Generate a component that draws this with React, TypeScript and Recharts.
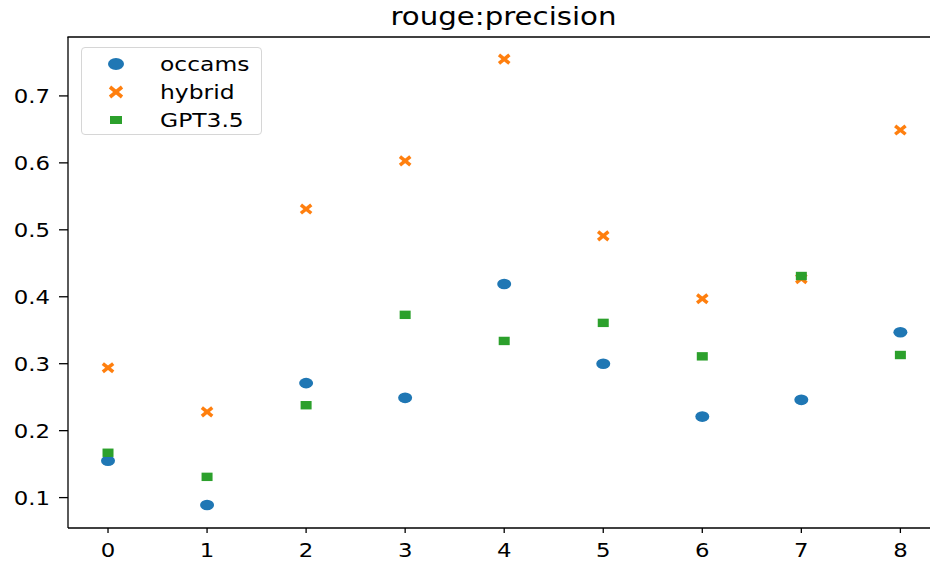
import React from "react";
import { ScatterChart, Scatter, XAxis, YAxis } from "recharts";

const categories = [0, 1, 2, 3, 4, 5, 6, 7, 8];
const occams = [0.155, 0.089, 0.271, 0.249, 0.419, 0.3, 0.221, 0.246, 0.347];
const hybrid = [0.294, 0.228, 0.531, 0.603, 0.755, 0.491, 0.397, 0.427, 0.649];
const gpt35 = [0.167, 0.131, 0.238, 0.373, 0.334, 0.361, 0.311, 0.431, 0.313];
const yTicks = [0.1, 0.2, 0.3, 0.4, 0.5, 0.6, 0.7];
const title = "rouge:precision";
const seriesNames = ["occams", "hybrid", "GPT3.5"];

const BLUE = "#1f77b4";
const ORANGE = "#ff7f0e";
const GREEN = "#2ca02c";
const FONT = "'DejaVu Sans', sans-serif";
const SX = 1.17;

const toPts = (arr: number[]) => categories.map((c, i) => ({ x: c, y: arr[i] }));

const Circle = (p: any) => <ellipse cx={p.cx} cy={p.cy} rx={7} ry={5.3} fill={BLUE} />;
const Cross = (p: any) => (
  <g stroke={ORANGE} strokeWidth={3.5} strokeLinecap="butt">
    <line x1={p.cx - 5.2} y1={p.cy - 4.2} x2={p.cx + 5.2} y2={p.cy + 4.2} />
    <line x1={p.cx - 5.2} y1={p.cy + 4.2} x2={p.cx + 5.2} y2={p.cy - 4.2} />
  </g>
);
const Square = (p: any) => <rect x={p.cx - 5.5} y={p.cy - 4.2} width={11} height={8.4} fill={GREEN} />;

const XTick = (p: any) => (
  <text
    transform={`translate(${p.x},557) scale(${SX},1)`}
    textAnchor="middle"
    fontSize={19.5}
    fontFamily={FONT}
    fill="#000"
  >
    {String(p.payload.value)}
  </text>
);
const YTick = (p: any) => (
  <text
    transform={`translate(50,${p.y}) scale(${SX},1)`}
    textAnchor="end"
    dy="0.36em"
    fontSize={19.5}
    fontFamily={FONT}
    fill="#000"
  >
    {Number(p.payload.value).toFixed(1)}
  </text>
);

const legendMarkers = [
  <svg width={20} height={16}><ellipse cx={10} cy={8} rx={8} ry={6} fill={BLUE} /></svg>,
  <svg width={20} height={16}>
    <g stroke={ORANGE} strokeWidth={3.6}>
      <line x1={4} y1={3} x2={16} y2={13} />
      <line x1={4} y1={13} x2={16} y2={3} />
    </g>
  </svg>,
  <svg width={20} height={16}><rect x={4} y={4} width={12} height={8} fill={GREEN} /></svg>,
];

export default function App() {
  return (
    <div style={{ position: "absolute", left: 0, top: 0, width: 930, height: 564, overflow: "hidden", background: "#fff", fontFamily: FONT }}>
      <ScatterChart width={945} height={564} margin={{ top: 37, right: 5, bottom: 0, left: 0 }}>
        <XAxis
          type="number"
          dataKey="x"
          domain={[-0.404, 8.4]}
          ticks={categories}
          allowDataOverflow
          height={36}
          axisLine={{ stroke: "#000", strokeWidth: 1.3 }}
          tickLine={{ stroke: "#000", strokeWidth: 1.3 }}
          tickSize={5}
          tick={XTick}
          interval={0}
        />
        <YAxis
          type="number"
          dataKey="y"
          domain={[0.0546, 0.788]}
          ticks={yTicks}
          allowDataOverflow
          width={68}
          axisLine={{ stroke: "#000", strokeWidth: 1.3 }}
          tickLine={{ stroke: "#000", strokeWidth: 1.3 }}
          tickSize={9}
          tick={YTick}
          interval={0}
        />
        <Scatter name={seriesNames[0]} data={toPts(occams)} shape={Circle} isAnimationActive={false} />
        <Scatter name={seriesNames[1]} data={toPts(hybrid)} shape={Cross} isAnimationActive={false} />
        <Scatter name={seriesNames[2]} data={toPts(gpt35)} shape={Square} isAnimationActive={false} />
      </ScatterChart>
      <svg style={{ position: "absolute", left: 0, top: 0 }} width={930} height={40}>
        <text
          transform={`translate(503.5,25) scale(${SX},1)`}
          textAnchor="middle"
          fontSize={25}
          fontFamily={FONT}
          fill="#000"
        >
          {title}
        </text>
        <line x1={67.4} y1={37} x2={930} y2={37} stroke="#000" strokeWidth={1.3} />
      </svg>
      <div
        style={{
          position: "absolute",
          left: 81,
          top: 47,
          width: 179,
          height: 86,
          border: "1px solid #d6d6d6",
          borderRadius: 4,
          background: "rgba(255,255,255,0.8)",
          boxSizing: "content-box",
        }}
      >
        {seriesNames.map((n, i) => (
          <div key={n} style={{ position: "absolute", left: 0, top: 2 + i * 28, height: 28, display: "flex", alignItems: "center", fontSize: 20, color: "#000" }}>
            <div style={{ width: 24, marginLeft: 22, display: "flex", justifyContent: "center" }}>{legendMarkers[i]}</div>
            <div style={{ marginLeft: 32, transform: `scaleX(${SX})`, transformOrigin: "left center", whiteSpace: "nowrap" }}>{n}</div>
          </div>
        ))}
      </div>
    </div>
  );
}
